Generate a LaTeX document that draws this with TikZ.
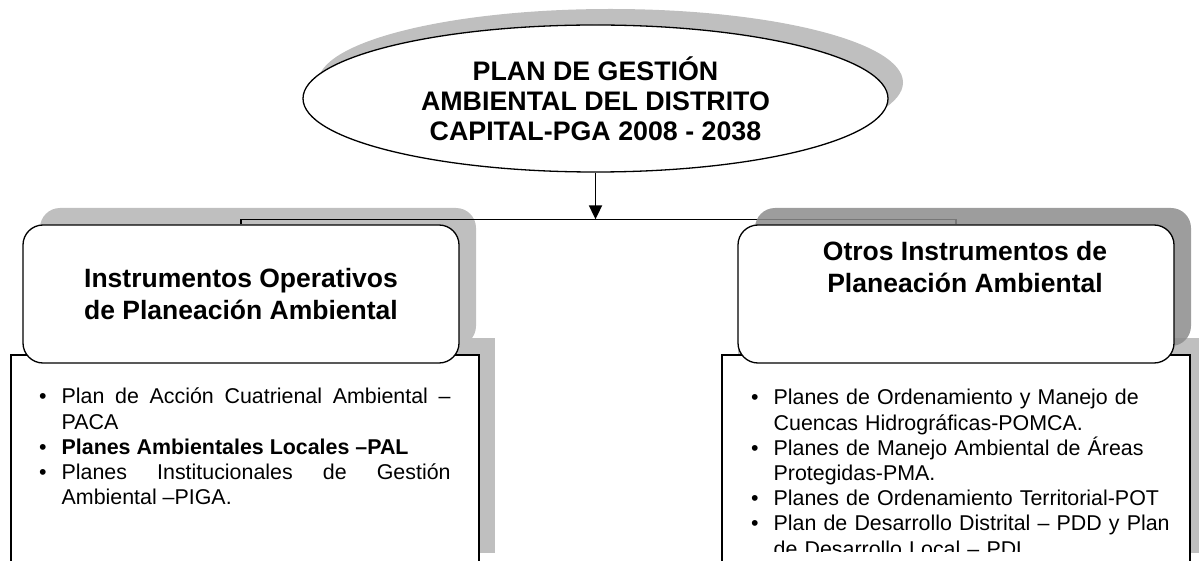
\documentclass[tikz,border=0pt]{standalone}
\usepackage{fontspec}
\setmainfont{Liberation Sans}
\usetikzlibrary{positioning,shapes.geometric,shadows,arrows.meta}
\newcommand{\listitem}{\par\hyphenpenalty=10000\relax\hangindent=31pt\hangafter=1\noindent\makebox[31pt][l]{\hspace{8.5pt}•}}

\begin{document}
\begin{tikzpicture}[x=1pt,y=-1pt,>={Triangle[width=13pt,length=14pt]},
                    line width=1.3pt,
    plan/.style={ellipse,draw,fill=white,minimum width=585pt,minimum height=147pt,
                 inner sep=0pt,align=center,font=\fontsize{26.8}{30}\selectfont\bfseries,
                 drop shadow={shadow xshift=15pt,shadow yshift=16pt,fill=black!25,opacity=1}},
    titlebox/.style={draw,fill=white,rounded corners=20pt,minimum width=436pt,
                 minimum height=138pt,inner sep=0pt,align=center,
                 font=\fontsize{26.5}{31.7}\selectfont\bfseries},
    listbox/.style={draw,fill=white,minimum width=468pt,minimum height=215pt,inner sep=0pt,
                 drop shadow={shadow xshift=16pt,shadow yshift=17pt,fill=black!25,opacity=1}},
    listtext/.style={anchor=north west,inner sep=0pt,
                 font=\fontsize{21.4}{25.2}\selectfont}]
\clip (0,0) rectangle (1199,561);
% list boxes
\node[listbox] (oplist) at (245,462.5) {};
\node[listbox] (otlist) at (956,462.5) {};
\node[listtext,text width=420pt,align=justify] (opitems) at (30,378) {%
  \listitem Plan de Acción Cuatrienal Ambiental – PACA
  \listitem \textbf{Planes Ambientales Locales –PAL}
  \listitem Planes Institucionales de Gestión Ambiental –PIGA.\par};
\begin{scope}
\clip (0,0) rectangle (1199,551);
\node[listtext,text width=431pt,align=left] (otitems) at (742,379) {%
  \listitem Planes de Ordenamiento y Manejo de Cuencas Hidrográficas-POMCA.
  \listitem Planes de Manejo Ambiental de Áreas Protegidas-PMA.
  \listitem Planes de Ordenamiento Territorial-POT
  \listitem Plan de Desarrollo Distrital – PDD y Plan de Desarrollo Local – PDL\par};
\end{scope}
% title boxes
\node[titlebox,drop shadow={shadow xshift=17pt,shadow yshift=17pt,fill=black!25,opacity=1}]
      (iop) at (241,294) {Instrumentos Operativos\\de Planeación Ambiental};
\path (iop.north) ++(0,-5) coordinate (bar);
\draw (iop.north) -- (bar) -| (otlist.north |- iop.north);
\node[titlebox,drop shadow={shadow xshift=17pt,shadow yshift=17pt,fill=black!45,opacity=.85}]
      (otros) at (956,294) {};
\node[font=\fontsize{26.5}{31.7}\selectfont\bfseries,align=center,inner sep=0pt]
      (otrostxt) at (965,267) {Otros Instrumentos de\\Planeación Ambiental};
% main plan
\node[plan] (pga) at (595.5,98.5) {PLAN DE GESTIÓN\\AMBIENTAL DEL DISTRITO\\CAPITAL-PGA 2008 - 2038};
\draw[->,line width=1.8pt] (pga.south) -- (pga.south |- bar);
\end{tikzpicture}
\end{document}
